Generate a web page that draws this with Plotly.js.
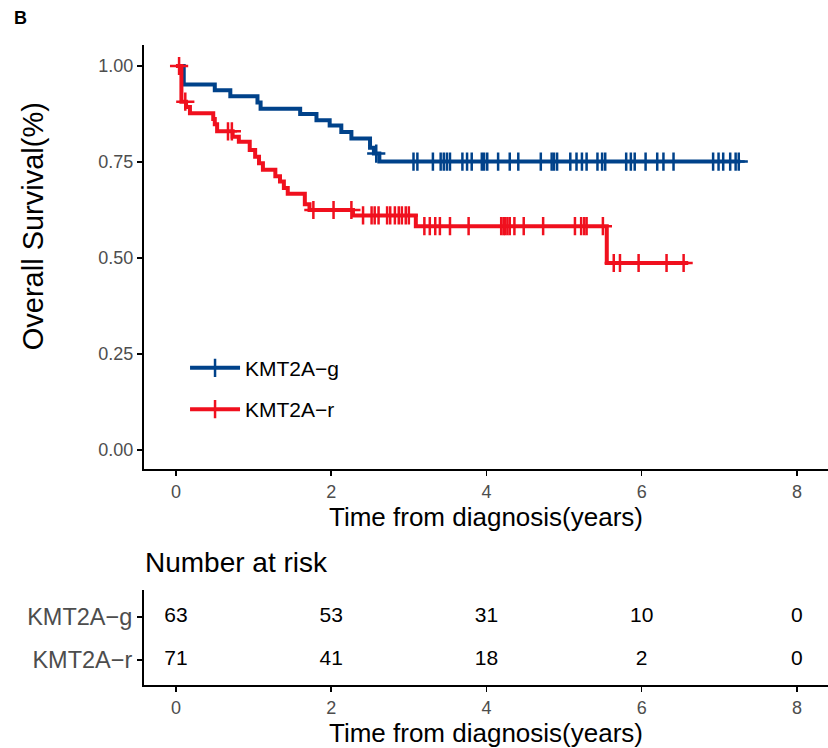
<!DOCTYPE html>
<html>
<head>
<meta charset="utf-8">
<script src="https://cdn.plot.ly/plotly-3.0.1.min.js"></script>
<style>html,body{margin:0;padding:0;background:#fff;}#chart{width:828px;height:748px;}</style>
</head>
<body>
<div id="chart"></div>
<script>
// ---- data ----
const groups = ["KMT2A\u2212g", "KMT2A\u2212r"];
const colors = ["#00428A", "#F0101E"];

// KMT2A-g Kaplan-Meier steps
const gTimes = [0, 0.10, 0.50, 0.70, 1.05, 1.09, 1.60, 1.81, 1.98, 2.13, 2.26, 2.50, 2.55, 2.62, 7.27];
const gSurv  = [1.0, 0.952, 0.937, 0.921, 0.905, 0.889, 0.875, 0.859, 0.845, 0.828, 0.811, 0.787, 0.772, 0.751, 0.751];
const gCensor = [2.58, 3.06, 3.11, 3.31, 3.41, 3.45, 3.49, 3.53, 3.69, 3.75, 3.81, 3.94, 3.97, 4.01, 4.15, 4.30, 4.41,
                 4.70, 4.84, 4.87, 4.91, 5.08, 5.16, 5.23, 5.29, 5.43, 5.49, 5.53, 5.80, 5.86, 5.91, 6.05, 6.20, 6.28,
                 6.41, 6.92, 6.99, 7.05, 7.14, 7.21, 7.25];

// KMT2A-r Kaplan-Meier steps
const rTimes = [0, 0.07, 0.13, 0.18, 0.48, 0.50, 0.53, 0.73, 0.81, 0.95, 1.02, 1.07, 1.12, 1.28, 1.34, 1.39, 1.44, 1.66, 1.72, 2.28, 3.09, 5.55, 6.60];
const rSurv  = [1.0, 0.907, 0.893, 0.877, 0.862, 0.848, 0.830, 0.816, 0.803, 0.781, 0.764, 0.747, 0.730, 0.713, 0.699, 0.682, 0.667, 0.640, 0.625, 0.611, 0.583, 0.487, 0.487];
const rCensor = [0.04, 0.12, 0.67, 0.72, 1.77, 2.03, 2.26, 2.41, 2.52, 2.56, 2.61, 2.72, 2.76, 2.82, 2.87, 2.91, 2.96, 3.00,
                 3.20, 3.27, 3.34, 3.40, 3.53, 3.77, 4.19, 4.22, 4.24, 4.27, 4.30, 4.36, 4.48, 4.73, 5.14, 5.22, 5.26,
                 5.29, 5.50, 5.64, 5.72, 5.96, 6.32, 6.54];

// Number at risk table
const riskTimes = [0, 2, 4, 6, 8];
const riskG = [63, 53, 31, 10, 0];
const riskR = [71, 41, 18, 2, 0];

const xTicks = [0, 2, 4, 6, 8];
const yTicks = [0, 0.25, 0.5, 0.75, 1];
const yTickText = ["0.00", "0.25", "0.50", "0.75", "1.00"];

// ---- helpers ----
function survAt(times, surv, t) {
  let s = surv[0];
  for (let i = 0; i < times.length; i++) { if (times[i] <= t) s = surv[i]; }
  return s;
}

const FONT = "Liberation Sans, Arial, sans-serif";
const GREY = "#4D4D4D";
const LW = 4;
const MK = (c) => ({symbol: "cross-thin", size: 13, color: c, line: {color: c, width: 2.5}});

const traces = [
  {x: gTimes, y: gSurv, mode: "lines", line: {shape: "hv", color: colors[0], width: LW},
   name: groups[0], legendgroup: "g", showlegend: false, xaxis: "x", yaxis: "y", hoverinfo: "skip"},
  {x: gCensor, y: gCensor.map(t => survAt(gTimes, gSurv, t)), mode: "markers", marker: MK(colors[0]),
   name: groups[0], legendgroup: "g", showlegend: false, xaxis: "x", yaxis: "y", hoverinfo: "skip"},
  {x: rTimes, y: rSurv, mode: "lines", line: {shape: "hv", color: colors[1], width: LW},
   name: groups[1], legendgroup: "r", showlegend: false, xaxis: "x", yaxis: "y", hoverinfo: "skip"},
  {x: rCensor, y: rCensor.map(t => survAt(rTimes, rSurv, t)), mode: "markers", marker: MK(colors[1]),
   name: groups[1], legendgroup: "r", showlegend: false, xaxis: "x", yaxis: "y", hoverinfo: "skip"},
  // legend entries
  {x: [null], y: [null], mode: "lines+markers", line: {color: colors[0], width: LW}, marker: MK(colors[0]),
   name: groups[0], legendgroup: "g", showlegend: true, xaxis: "x", yaxis: "y"},
  {x: [null], y: [null], mode: "lines+markers", line: {color: colors[1], width: LW}, marker: MK(colors[1]),
   name: groups[1], legendgroup: "r", showlegend: true, xaxis: "x", yaxis: "y"},
  // risk table
  {x: riskTimes, y: riskTimes.map(() => 2), text: riskG.map(String), mode: "text",
   textfont: {family: FONT, size: 21, color: "#000"}, textposition: "middle center",
   xaxis: "x2", yaxis: "y2", showlegend: false, hoverinfo: "skip"},
  {x: riskTimes, y: riskTimes.map(() => 1), text: riskR.map(String), mode: "text",
   textfont: {family: FONT, size: 21, color: "#000"}, textposition: "middle center",
   xaxis: "x2", yaxis: "y2", showlegend: false, hoverinfo: "skip"}
];

const axisCommon = {
  showline: true, linecolor: "#000", linewidth: 2,
  ticks: "outside", ticklen: 5, tickwidth: 1.5, tickcolor: "#000",
  showgrid: false, zeroline: false,
  tickfont: {family: FONT, size: 18, color: GREY}
};

const layout = {
  width: 828, height: 748,
  margin: {l: 144, r: 0, t: 45, b: 63},
  paper_bgcolor: "#fff", plot_bgcolor: "#fff",
  font: {family: FONT, color: "#000"},
  showlegend: true,
  legend: {x: 0.06, y: 0.527, xanchor: "left", yanchor: "top",
           font: {family: FONT, size: 21, color: "#000"},
           bgcolor: "rgba(0,0,0,0)", tracegroupgap: 11, traceorder: "grouped", itemwidth: 50},
  xaxis: Object.assign({}, axisCommon, {
    domain: [0, 1], anchor: "y", range: [-0.412, 8.40], tickvals: xTicks,
    title: {text: "Time from diagnosis(years)", font: {family: FONT, size: 26, color: "#000"}, standoff: 7}
  }),
  yaxis: Object.assign({}, axisCommon, {
    domain: [0.3375, 1], anchor: "x", range: [-0.0495, 1.0547], tickvals: yTicks, ticktext: yTickText
  }),
  xaxis2: Object.assign({}, axisCommon, {
    domain: [0, 1], anchor: "y2", range: [-0.412, 8.40], tickvals: xTicks,
    title: {text: "Time from diagnosis(years)", font: {family: FONT, size: 26, color: "#000"}, standoff: 8}
  }),
  yaxis2: Object.assign({}, axisCommon, {
    domain: [0, 0.1484], anchor: "x2", range: [0.42, 2.63], tickvals: [1, 2], ticktext: [groups[1], groups[0]],
    tickfont: {family: FONT, size: 23.5, color: GREY}
  }),
  annotations: [
    {text: "<b>B</b>", xref: "paper", yref: "paper", x: -0.181, y: 1.042, xanchor: "center", yanchor: "middle",
     showarrow: false, font: {family: FONT, size: 18, color: "#000"}},
    {text: "Overall Survival(%)", xref: "paper", yref: "paper", x: -0.163, y: 0.716, textangle: -90,
     xanchor: "center", yanchor: "middle", showarrow: false, font: {family: FONT, size: 29, color: "#000"}},
    {text: "Number at risk", xref: "paper", yref: "paper", x: -0.002, y: 0.192, xanchor: "left", yanchor: "middle",
     showarrow: false, font: {family: FONT, size: 28, color: "#000"}}
  ]
};

Plotly.newPlot("chart", traces, layout, {displayModeBar: false, staticPlot: true});
</script>
</body>
</html>
